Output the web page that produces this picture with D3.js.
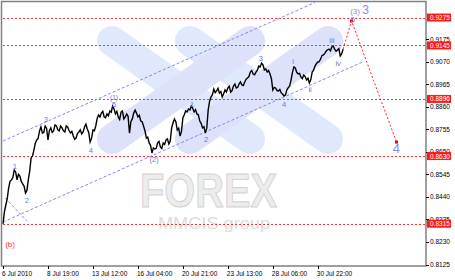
<!DOCTYPE html>
<html>
<head>
<meta charset="utf-8">
<script src="https://cdn.jsdelivr.net/npm/d3@7"></script>
<style>
  body { margin: 0; background: #fff; }
  svg { display: block; }
  text { font-family: "Liberation Sans", Arial, sans-serif; }
</style>
</head>
<body>
<script>
// hourly closes, one value every 2 bars
var closes = [0.8314,0.8370,0.8402,0.8430,0.8481,0.8512,0.8519,0.8530,0.8565,0.8556,
  0.8519,0.8545,0.8537,0.8512,0.8500,0.8490,0.8458,0.8470,0.8519,0.8560,
  0.8621,0.8630,0.8658,0.8690,0.8705,0.8712,0.8747,0.8765,0.8737,0.8740,
  0.8770,0.8760,0.8705,0.8748,0.8761,0.8740,0.8747,0.8775,0.8770,0.8752,
  0.8747,0.8770,0.8761,0.8748,0.8742,0.8770,0.8765,0.8749,0.8737,0.8745,
  0.8723,0.8708,0.8714,0.8735,0.8742,0.8752,0.8733,0.8742,0.8765,0.8778,
  0.8756,0.8740,0.8695,0.8712,0.8751,0.8748,0.8770,0.8805,0.8821,0.8812,
  0.8830,0.8838,0.8812,0.8808,0.8826,0.8818,0.8840,0.8834,0.8863,0.8850,
  0.8826,0.8838,0.8812,0.8800,0.8835,0.8840,0.8803,0.8812,0.8826,0.8815,
  0.8737,0.8790,0.8803,0.8830,0.8844,0.8830,0.8812,0.8820,0.8793,0.8790,
  0.8770,0.8748,0.8714,0.8718,0.8691,0.8680,0.8644,0.8668,0.8663,0.8665,
  0.8691,0.8698,0.8672,0.8665,0.8691,0.8684,0.8705,0.8710,0.8686,0.8700,
  0.8761,0.8785,0.8803,0.8790,0.8751,0.8760,0.8723,0.8745,0.8807,0.8822,
  0.8840,0.8835,0.8849,0.8845,0.8863,0.8852,0.8835,0.8846,0.8826,0.8822,
  0.8793,0.8782,0.8761,0.8766,0.8737,0.8760,0.8844,0.8885,0.8905,0.8915,
  0.8942,0.8925,0.8933,0.8945,0.8924,0.8930,0.8905,0.8920,0.8938,0.8928,
  0.8947,0.8955,0.8928,0.8935,0.8956,0.8965,0.8947,0.8950,0.8966,0.8975,
  0.8961,0.8958,0.8975,0.8988,0.8993,0.9000,0.9021,0.9028,0.9012,0.9008,
  0.9021,0.9030,0.9049,0.9045,0.9063,0.9055,0.9031,0.9035,0.9021,0.9028,
  0.9012,0.8990,0.8938,0.8950,0.8947,0.8935,0.8933,0.8940,0.8924,0.8918,
  0.8910,0.8915,0.8938,0.8948,0.8956,0.8985,0.9021,0.9045,0.9040,0.9020,
  0.9012,0.9015,0.8998,0.8990,0.9007,0.9000,0.8984,0.8992,0.8970,0.8985,
  0.9021,0.9030,0.9049,0.9060,0.9068,0.9070,0.9082,0.9098,0.9101,0.9108,
  0.9119,0.9125,0.9128,0.9120,0.9138,0.9142,0.9128,0.9118,0.9124,0.9130,
  0.9096,0.9105,0.9128]
var step = 2

var levels = [0.9275, 0.9145, 0.8896, 0.8630, 0.8315]
var yTicks = [0.9175, 0.9070, 0.8965, 0.8860, 0.8755, 0.8650, 0.8545, 0.8440, 0.8335, 0.8230, 0.8125]
var xTickBars = [0, 64, 128, 192, 256, 320, 384, 448]
var xTickLabels = ['6 Jul 2010', '8 Jul 19:00', '13 Jul 12:00', '16 Jul 04:00', '20 Jul 21:00', '23 Jul 13:00', '28 Jul 06:00', '30 Jul 22:00']

// forecast path (bar, price)
var forecastBars = [484, 496, 560]
var forecastPrices = [0.9128, 0.9259, 0.8695]

// channel lines [bar1, price1, bar2, price2]
var channels = [[0, 0.8323, 512, 0.9068], [0, 0.8700, 444, 0.9345], [3, 0.8435, 34, 0.8328]]

// wave labels: text, bar, price
var waveText  = ['1', '2', '3', '4', '(1)', '5', '(2)', '1', '2', '3', '4', 'i', 'ii', 'iii', 'iv', '5']
var waveBar   = [17, 34, 61, 125, 158, 158, 215, 269, 289, 367, 400, 413, 437, 468, 477, 498]
var wavePrice = [0.8579, 0.8425, 0.8798, 0.8658, 0.8902, 0.8872, 0.8612, 0.8872, 0.8709, 0.9086, 0.8872, 0.9068, 0.8942, 0.9166, 0.9059, 0.9268]

var width = 455, height = 280
var left = 3, right = 426, top = 3, bottom = 266

var svg = d3.select('body').append('svg')
  .attr('width', width)
  .attr('height', height)

var x = d3.scaleLinear().domain([0, 602]).range([left, right])
var y = d3.scaleLinear().domain([0.8125, 0.9175]).range([264.5, 39])

svg.append('rect').attr('width', width).attr('height', height).attr('fill', '#fff')

// watermark logo
var logo = svg.append('g').attr('stroke-linecap', 'round').attr('stroke-width', 30)
var arms = [[112, 41, 250, 139, '#dfe9fb'], [190, 41, 328, 139, '#dfe9fb'],
            [250, 41, 112, 139, '#dde1f9'], [328, 41, 190, 139, '#dde1f9']]
arms.forEach(function(a) {
  logo.append('line').attr('x1', a[0]).attr('y1', a[1]).attr('x2', a[2]).attr('y2', a[3])
    .attr('stroke', a[4])
})
svg.append('text').attr('x', 140).attr('y', 207)
  .attr('textLength', 137).attr('lengthAdjust', 'spacingAndGlyphs')
  .style('font-size', '48px').style('font-weight', 'bold')
  .attr('fill', '#ececec').attr('stroke', '#d2d2d2').attr('stroke-width', 1)
  .text('FOREX')
svg.append('text').attr('x', 158).attr('y', 229)
  .attr('textLength', 112).attr('lengthAdjust', 'spacingAndGlyphs')
  .style('font-size', '17px')
  .attr('fill', '#dcdcdc')
  .text('MMCIS group')

// red levels
svg.selectAll('line.level').data(levels).enter().append('line')
  .attr('class', 'level')
  .attr('x1', left).attr('x2', right)
  .attr('y1', function(d) { return Math.round(y(d)) + 0.5 })
  .attr('y2', function(d) { return Math.round(y(d)) + 0.5 })
  .attr('stroke', '#ff3333').attr('stroke-dasharray', '2,2')

// channels
svg.selectAll('line.chan').data(channels).enter().append('line')
  .attr('class', 'chan')
  .attr('x1', function(d) { return x(d[0]) }).attr('y1', function(d) { return y(d[1]) })
  .attr('x2', function(d) { return x(d[2]) }).attr('y2', function(d) { return y(d[3]) })
  .attr('stroke', '#8585f2').attr('stroke-dasharray', '3,2')

// price line
var line = d3.line()
  .x(function(d, i) { return x(i * step) })
  .y(function(d) { return y(d) })
svg.append('path').datum(closes)
  .attr('d', line)
  .attr('fill', 'none').attr('stroke', '#000').attr('stroke-width', 1.4)
  .attr('stroke-linejoin', 'miter')

// forecast
var fc = forecastBars.map(function(b, i) { return [x(b), y(forecastPrices[i])] })
svg.append('path').attr('d', d3.line()(fc))
  .attr('fill', 'none').attr('stroke', '#ff2222').attr('stroke-dasharray', '2,2')
svg.selectAll('rect.fcpt').data(fc.slice(1)).enter().append('rect')
  .attr('class', 'fcpt')
  .attr('x', function(d) { return d[0] - 1.5 }).attr('y', function(d) { return d[1] - 1.5 })
  .attr('width', 3).attr('height', 3).attr('fill', '#ee0000')

// wave labels
svg.selectAll('text.wave').data(waveText).enter().append('text')
  .attr('class', 'wave')
  .attr('x', function(d, i) { return x(waveBar[i]) })
  .attr('y', function(d, i) { return y(wavePrice[i]) })
  .attr('text-anchor', 'middle').attr('dominant-baseline', 'central')
  .style('font-size', function(d) { return (d == '(1)' ? 6.5 : 7.5) + 'px' })
  .attr('fill', '#6f6fe6')
  .text(function(d) { return d })
svg.append('text').attr('x', x(501)).attr('y', y(0.9305))
  .attr('text-anchor', 'middle').attr('dominant-baseline', 'central')
  .style('font-size', '8px').attr('fill', '#8a8af0').text('(3)')
svg.append('text').attr('x', x(516)).attr('y', y(0.9310))
  .attr('text-anchor', 'middle').attr('dominant-baseline', 'central')
  .style('font-size', '12px').attr('fill', '#8a8af0').text('3')
svg.append('text').attr('x', x(560)).attr('y', y(0.8663))
  .attr('text-anchor', 'middle').attr('dominant-baseline', 'central')
  .style('font-size', '13px').attr('fill', '#8a8af0').text('4')
svg.append('text').attr('x', x(10)).attr('y', y(0.8216))
  .attr('text-anchor', 'middle').attr('dominant-baseline', 'central')
  .style('font-size', '8px').attr('fill', '#ff3333').text('(b)')

// frame
svg.append('rect').attr('x', 1.5).attr('y', 1.5).attr('width', right - 1.5).attr('height', bottom - 1.5)
  .attr('fill', 'none').attr('stroke', '#808080').attr('stroke-width', 1.5)

// right axis
var ya = svg.append('g')
ya.selectAll('line').data(yTicks).enter().append('line')
  .attr('x1', right).attr('x2', right + 3)
  .attr('y1', function(d) { return Math.round(y(d)) + 0.5 })
  .attr('y2', function(d) { return Math.round(y(d)) + 0.5 })
  .attr('stroke', '#000')
ya.selectAll('text').data(yTicks).enter().append('text')
  .attr('x', right + 4)
  .attr('y', function(d) { return y(d) })
  .attr('dominant-baseline', 'central')
  .style('font-size', '6.5px').attr('fill', '#000')
  .text(function(d) { return d.toFixed(4) })

var lb = svg.selectAll('g.lvl').data(levels).enter().append('g').attr('class', 'lvl')
lb.append('rect')
  .attr('x', right + 1).attr('y', function(d) { return y(d) - 4 })
  .attr('width', 24).attr('height', 8).attr('fill', '#ff1a1a')
lb.append('text')
  .attr('x', right + 4).attr('y', function(d) { return y(d) })
  .attr('dominant-baseline', 'central')
  .style('font-size', '6.5px').attr('fill', '#fff')
  .text(function(d) { return d.toFixed(4) })

// bottom axis
var xa = svg.append('g')
xa.selectAll('line').data(xTickBars).enter().append('line')
  .attr('x1', function(d) { return Math.round(x(d)) + 0.5 })
  .attr('x2', function(d) { return Math.round(x(d)) + 0.5 })
  .attr('y1', bottom).attr('y2', bottom + 3)
  .attr('stroke', '#000')
xa.selectAll('text').data(xTickLabels).enter().append('text')
  .attr('x', function(d, i) { return x(xTickBars[i]) - 1 })
  .attr('y', 275.5)
  .style('font-size', '6.5px').attr('fill', '#000')
  .text(function(d) { return d })
</script>
</body>
</html>
